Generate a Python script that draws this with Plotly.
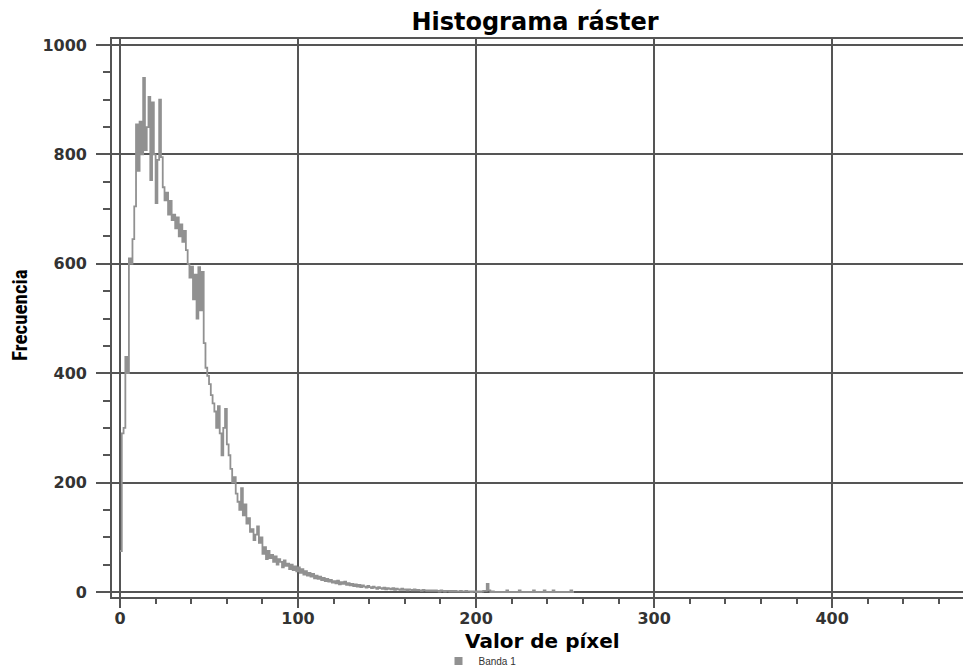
import plotly.graph_objects as go

# Histogram bins (pixel values) and frequencies
freq_000_049 = [75, 290, 300, 430, 400, 610, 600, 645, 705, 855,
                770, 860, 800, 940, 808, 850, 905, 753, 895, 800,
                711, 790, 900, 795, 740, 716, 730, 690, 715, 680,
                690, 665, 685, 650, 672, 640, 660, 625, 600, 575,
                595, 535, 580, 500, 594, 515, 585, 455, 410, 395]
freq_050_099 = [380, 360, 345, 330, 300, 340, 290, 250, 300, 335,
                270, 250, 225, 200, 210, 180, 165, 150, 190, 140,
                160, 125, 135, 110, 115, 95, 105, 120, 90, 100,
                70, 82, 60, 75, 62, 68, 55, 65, 50, 60,
                55, 45, 58, 48, 52, 42, 50, 40, 47, 38]
freq_100_149 = [45, 35, 42, 32, 38, 30, 35, 28, 33, 25,
                30, 24, 28, 22, 26, 20, 24, 19, 22, 17,
                20, 16, 21, 14, 18, 15, 19, 13, 16, 12,
                15, 11, 14, 10, 13, 9, 12, 10, 8, 11,
                9, 7, 10, 8, 6, 9, 7, 6, 8, 5]
freq_150_199 = [7, 6, 5, 7, 4, 6, 5, 4, 6, 4,
                5, 3, 5, 4, 3, 5, 3, 4, 3, 2,
                4, 3, 2, 3, 2, 3, 2, 3, 2, 1,
                3, 2, 1, 2, 2, 1, 2, 1, 2, 1,
                1, 2, 1, 1, 2, 1, 1, 0, 1, 1]
freq_200_255 = [0, 1, 0, 1, 2, 2, 15, 3, 0, 1,
                0, 0, 0, 0, 0, 0, 0, 3, 0, 0,
                0, 0, 0, 0, 3, 0, 0, 0, 0, 0,
                0, 0, 3, 0, 0, 0, 0, 0, 3, 0,
                0, 0, 0, 3, 0, 0, 0, 0, 0, 0,
                0, 0, 0, 3, 0, 0]

frequencies = freq_000_049 + freq_050_099 + freq_100_149 + freq_150_199 + freq_200_255
pixel_values = list(range(len(frequencies)))

x_ticks = [0, 100, 200, 300, 400]
y_ticks = [0, 200, 400, 600, 800, 1000]

series_name = "Banda 1"
title_text = "Histograma ráster"
x_title = "Valor de píxel"
y_title = "Frecuencia"

LINE = "rgb(145,145,145)"
GRID = "#555555"
TXT = "#333333"
BOLD = "DejaVu Sans, Liberation Sans, Arial, sans-serif"

# the page body has an 8px margin, so the figure is offset by 8px
W, H = 963, 662
L, R, T, B = 104, 0, 31, 73
PW, PH = W - L - R, H - T - B


def px_x(px):
    return (px - L) / PW


def px_y(py):
    return (H - B - py) / PH


fig = go.Figure()
fig.add_trace(go.Scatter(
    x=pixel_values, y=frequencies, mode="lines",
    line=dict(color=LINE, width=1.8, shape="hv"),
    showlegend=False, hoverinfo="x+y"))
fig.add_trace(go.Scatter(
    x=[None], y=[None], mode="markers", name=series_name,
    marker=dict(symbol="square", size=8, color=LINE),
    showlegend=True))

fig.update_layout(
    width=W, height=H,
    margin=dict(l=L, r=R, t=T, b=B, autoexpand=False),
    paper_bgcolor="white", plot_bgcolor="white",
    title=dict(text=title_text, x=527 / W, xref="container", xanchor="center",
               y=1 - 14 / H, yref="container", yanchor="middle",
               font=dict(family=BOLD, size=24, color="black", weight="bold")),
    showlegend=True,
    legend=dict(orientation="h", x=px_x(472), xanchor="center",
                y=px_y(653), yanchor="middle",
                font=dict(family="Liberation Sans, Arial", size=10, color=TXT),
                itemwidth=30, bgcolor="rgba(0,0,0,0)"),
    xaxis=dict(
        range=[-4.5, 478], tickvals=x_ticks, automargin=False,
        showgrid=True, gridcolor=GRID, gridwidth=1.6,
        zeroline=False,
        showline=True, linecolor=GRID, linewidth=1.6, mirror=True,
        ticks="outside", ticklen=9, tickwidth=1.5, tickcolor=GRID,
        minor=dict(dtick=20, tick0=0, ticks="outside", ticklen=5, tickwidth=1.5,
                   tickcolor=GRID, showgrid=False),
        tickfont=dict(family=BOLD, size=16, color=TXT, weight="bold"),
        ticklabelstandoff=-3,
    ),
    yaxis=dict(
        range=[-9.1, 1011], tickvals=y_ticks, automargin=False,
        showgrid=True, gridcolor=GRID, gridwidth=1.6,
        zeroline=False,
        showline=True, linecolor=GRID, linewidth=1.6, mirror=True,
        ticks="outside", ticklen=14, tickwidth=1.5, tickcolor=GRID,
        minor=dict(dtick=50, tick0=0, ticks="outside", ticklen=7, tickwidth=1.5,
                   tickcolor=GRID, showgrid=False),
        tickfont=dict(family=BOLD, size=16, color=TXT, weight="bold"),
        ticklabelstandoff=6,
    ),
    annotations=[
        dict(text=y_title, textangle=-90, xref="paper", yref="paper",
             x=px_x(12), y=px_y(307), xanchor="center", yanchor="middle",
             showarrow=False,
             font=dict(family="Liberation Sans Narrow, Roboto Condensed, Liberation Sans, Arial",
                       size=21, color="black", weight="bold")),
        dict(text=x_title, xref="paper", yref="paper",
             x=px_x(534), y=px_y(633), xanchor="center", yanchor="middle",
             showarrow=False,
             font=dict(family=BOLD, size=20, color="black", weight="bold")),
    ],
)

fig.write_html("out.html")
